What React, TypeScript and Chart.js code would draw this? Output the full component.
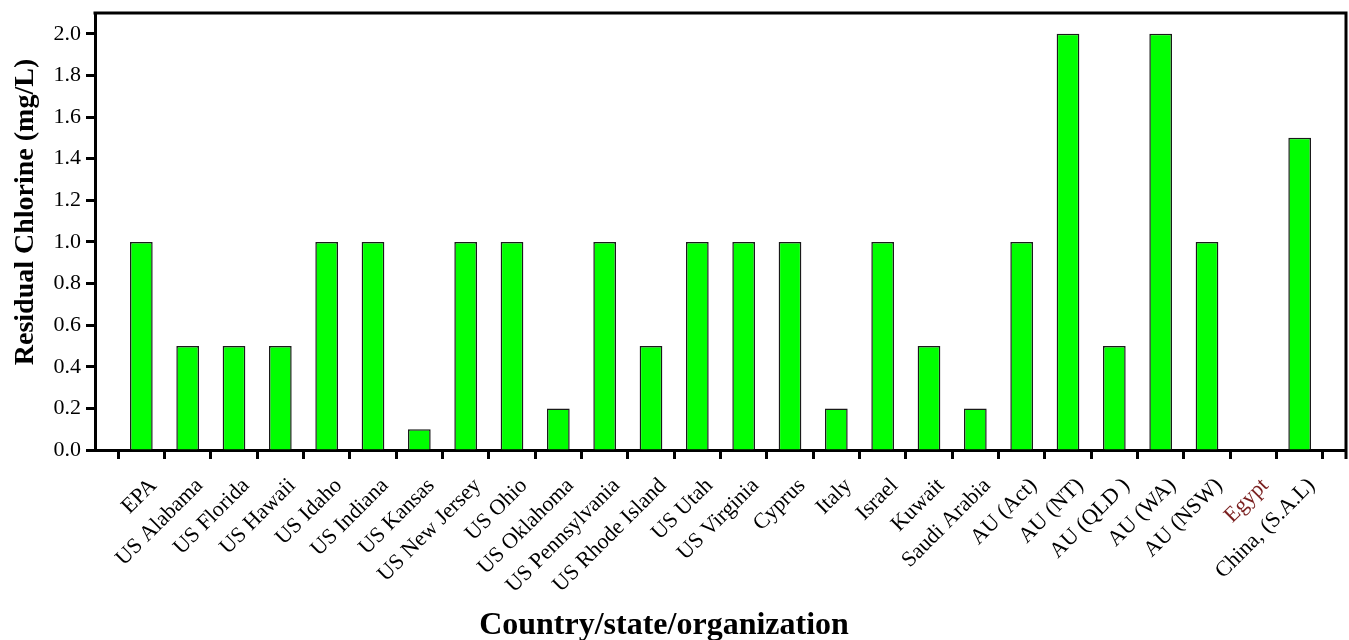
import React, { useEffect, useRef } from "react";
import { Chart, registerables } from "chart.js";

Chart.register(...registerables);

const categories: string[] = [
  "EPA", "US Alabama", "US Florida", "US Hawaii", "US Idaho", "US Indiana", "US Kansas",
  "US New Jersey", "US Ohio", "US Oklahoma", "US Pennsylvania", "US Rhode Island", "US Utah",
  "US Virginia", "Cyprus", "Italy", "Israel", "Kuwait", "Saudi Arabia", "AU (Act)", "AU (NT)",
  "AU (QLD )", "AU (WA)", "AU (NSW)", "Egypt", "China, (S.A.L)",
];

const residualChlorine: (number | null)[] = [
  1.0, 0.5, 0.5, 0.5, 1.0, 1.0, 0.1,
  1.0, 1.0, 0.2, 1.0, 0.5, 1.0,
  1.0, 1.0, 0.2, 1.0, 0.5, 0.2, 1.0, 2.0,
  0.5, 2.0, 1.0, null, 1.5,
];

const yTicks: number[] = [0, 0.2, 0.4, 0.6, 0.8, 1.0, 1.2, 1.4, 1.6, 1.8, 2.0];
const highlighted: string[] = ["Egypt"];

const xTitle = "Country/state/organization";
const yTitle = "Residual Chlorine (mg/L)";

const FONT = "'Liberation Serif', 'Times New Roman', serif";

export default function App() {
  const ref = useRef<HTMLCanvasElement | null>(null);

  useEffect(() => {
    if (!ref.current) return;
    const labels = ["", ...categories, ""];
    const values = [null, ...residualChlorine, null];

    const framePlugin = {
      id: "frameAndTitles",
      afterDraw(chart: any) {
        const { ctx, chartArea } = chart;
        ctx.save();
        ctx.strokeStyle = "#000";
        ctx.lineWidth = 3;
        ctx.beginPath();
        ctx.moveTo(chartArea.left - 1.5, chartArea.top);
        ctx.lineTo(chartArea.right, chartArea.top);
        ctx.lineTo(chartArea.right, chartArea.bottom + 9);
        ctx.stroke();

        ctx.fillStyle = "#000";
        ctx.font = `bold 32px ${FONT}`;
        ctx.textAlign = "center";
        ctx.textBaseline = "alphabetic";
        ctx.fillText(xTitle, 664, 634);

        ctx.translate(33, 212);
        ctx.rotate(-Math.PI / 2);
        ctx.font = `bold 28px ${FONT}`;
        ctx.fillText(yTitle, 0, 0);
        ctx.restore();
      },
    };

    const chart = new Chart(ref.current, {
      type: "bar",
      data: {
        labels,
        datasets: [
          {
            data: values,
            backgroundColor: "#00ff00",
            borderColor: "#1a1a1a",
            borderWidth: 1.5,
            categoryPercentage: 1,
            barPercentage: 0.49,
          },
        ],
      },
      options: {
        responsive: false,
        animation: false,
        layout: { padding: { top: 13, right: 3, left: 0, bottom: 0 } },
        plugins: {
          legend: { display: false },
          tooltip: { enabled: false },
        },
        scales: {
          x: {
            type: "category",
            offset: false,
            grid: {
              display: true,
              drawOnChartArea: false,
              drawTicks: true,
              tickLength: 9,
              tickWidth: 3,
              tickColor: "#000",
            },
            border: { display: true, width: 3, color: "#000" },
            ticks: {
              autoSkip: false,
              minRotation: 45,
              maxRotation: 45,
              padding: 14,
              labelOffset: 12,
              font: { family: FONT, size: 22 },
              color: (c: any) =>
                highlighted.includes(labels[c.index]) ? "#7a1f1f" : "#000",
            },
            afterFit: (s: any) => {
              s.height = 190;
              s.paddingLeft = 0;
              s.paddingRight = 0;
            },
          },
          y: {
            min: 0,
            max: 2.1,
            grid: {
              display: true,
              drawOnChartArea: false,
              drawTicks: true,
              tickLength: 9,
              tickWidth: 3,
              tickColor: "#000",
            },
            border: { display: true, width: 3, color: "#000" },
            afterBuildTicks: (s: any) => {
              s.ticks = yTicks.map((v) => ({ value: v }));
            },
            ticks: {
              includeBounds: false,
              padding: 5,
              font: { family: FONT, size: 22 },
              color: "#000",
              callback: (v: any) => Number(v).toFixed(1),
            },
            afterFit: (s: any) => {
              s.width = 95;
              s.paddingTop = 0;
              s.paddingBottom = 0;
            },
          },
        },
      },
      plugins: [framePlugin],
    });
    return () => chart.destroy();
  }, []);

  return (
    <canvas
      ref={ref}
      width={1349}
      height={640}
      style={{ position: "absolute", left: 0, top: 0, display: "block" }}
    />
  );
}
